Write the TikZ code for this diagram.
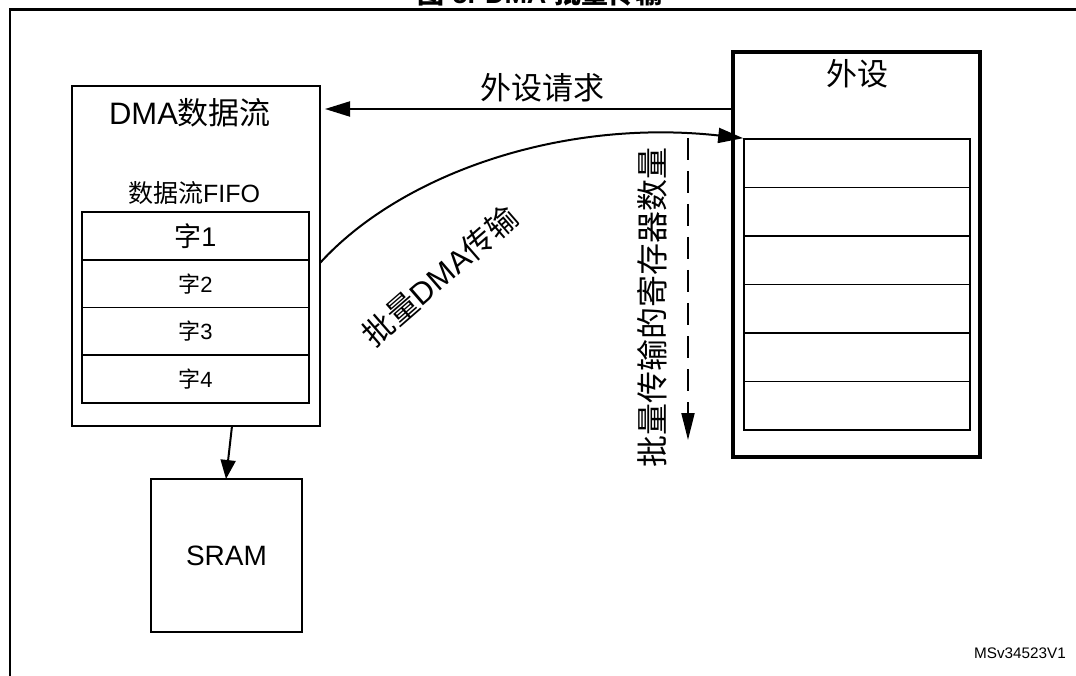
\documentclass[tikz,border=0pt]{standalone}
\usepackage{fontspec}
\setmainfont{Liberation Sans}
\newfontfamily\cjk{Noto Sans CJK SC}
\newcommand{\zhtxt}[1]{{\cjk #1}}
\usetikzlibrary{arrows.meta}
\tikzset{
  box/.style={draw, line width=1.6pt, minimum width=#1, inner sep=0pt},
  regbox/.style={draw, line width=1.6pt, minimum width=226pt, minimum height=48.5pt, inner sep=0pt},
  fifobox/.style={draw, line width=1.6pt, minimum width=227pt, minimum height=47.75pt, inner sep=0pt},
  conn/.style={line width=2pt},
  bigtip/.style={-{Triangle[length=25pt,width=15pt]}},
  lbl/.style={inner sep=0pt, font=\fontsize{31}{33}\selectfont},
}
\begin{document}
\begin{tikzpicture}[x=1pt,y=-1pt]
\useasboundingbox (0,0) rectangle (1076,676);
% caption (cut off at top)
\node[inner sep=0pt, anchor=base, font=\fontsize{27}{30}\selectfont\bfseries] (cap) at (540,4) {\zhtxt{图} 5. DMA \zhtxt{批量传输}};
% frame
\draw[line width=2.4pt] (1076,9.5) -- (10,9.5) -- (10,676);
% DMA stream box
\node[box=248pt, minimum height=340pt] (dma) at (196,256) {};
\node[lbl] (dmat) at (190,113) {DMA\zhtxt{数据流}};
\node[inner sep=0pt, font=\fontsize{25}{27}\selectfont] (fifot) at (194,193) {\zhtxt{数据流}FIFO};
\node[fifobox, font=\fontsize{27}{29}\selectfont] (w1) at (195.5,235.9) {\zhtxt{字}1};
\node[fifobox, font=\fontsize{22}{24}\selectfont] (w2) at (195.5,283.6) {\zhtxt{字}2};
\node[fifobox, font=\fontsize{22}{24}\selectfont] (w3) at (195.5,331.4) {\zhtxt{字}3};
\node[fifobox, font=\fontsize{22}{24}\selectfont] (w4) at (195.5,379.1) {\zhtxt{字}4};
% SRAM
\node[box=151pt, minimum height=153pt, font=\fontsize{28}{30}\selectfont] (sram) at (226.5,555.5) {SRAM};
% peripheral
\node[draw, line width=3.4pt, minimum width=247pt, minimum height=405pt, inner sep=0pt] (per) at (856.5,254.5) {};
\node[lbl] (pert) at (857,74) {\zhtxt{外设}};
\node[regbox] (r1) at (857,163.25) {};
\node[regbox] (r2) at (857,211.75) {};
\node[regbox] (r3) at (857,260.25) {};
\node[regbox] (r4) at (857,308.75) {};
\node[regbox] (r5) at (857,357.25) {};
\node[regbox] (r6) at (857,405.75) {};
% connectors
\coordinate (reqa) at (733,109);
\coordinate (reqb) at (325,109);
\draw[conn, bigtip] (reqa) -- (reqb);
\node[lbl] (reqt) at (542,88) {\zhtxt{外设请求}};
\coordinate (cs) at (320,263);
\draw[conn, bigtip] (cs) .. controls (400,175) and (560,118) .. (r1.north west);
\node[lbl, rotate=41] (bt) at (440,276) {\zhtxt{批量}DMA\zhtxt{传输}};
\coordinate (sa) at (232,426);
\coordinate (sb) at (226,479);
\draw[conn, -{Triangle[length=19pt,width=15pt]}] (sa) -- (sb);
\coordinate (da) at (688,138);
\coordinate (db) at (688,440);
\draw[conn, dash pattern=on 22pt off 11pt, -{Triangle[length=27pt,width=13pt]}] (da) -- (db);
\node[inner sep=0pt, rotate=90, font=\fontsize{32}{34}\selectfont] (vt) at (652,307) {\zhtxt{批量传输的寄存器数量}};
\node[inner sep=0pt, font=\fontsize{15.3}{17}\selectfont] (ms) at (1020,653) {MSv34523V1};
\end{tikzpicture}
\end{document}
